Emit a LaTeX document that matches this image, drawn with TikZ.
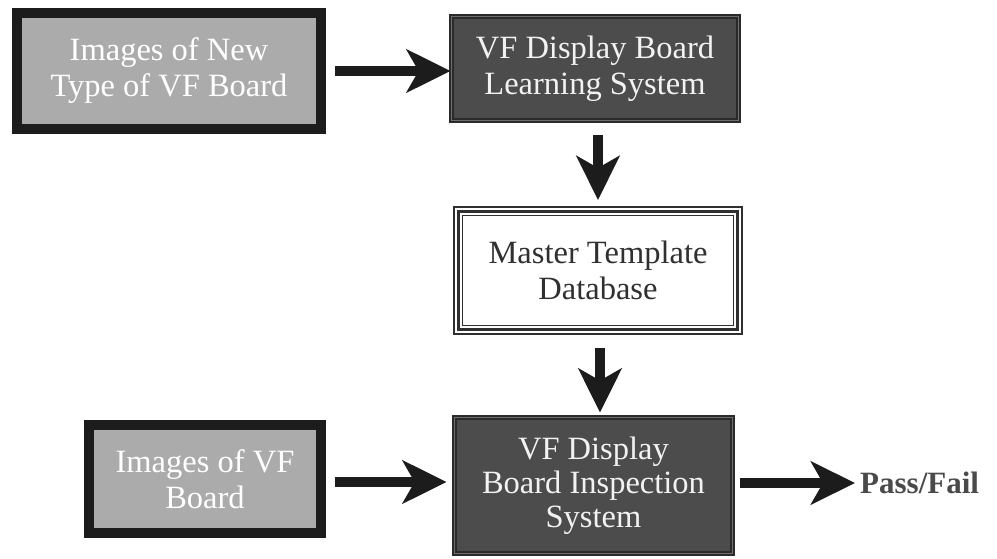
\documentclass[tikz,border=0pt]{standalone}
\usepackage{fontspec}
\setmainfont{Liberation Serif}
\usetikzlibrary{arrows.meta}
\definecolor{lightfill}{HTML}{ABABAB}
\definecolor{darkfill}{HTML}{4C4C4C}
\definecolor{frameclr}{HTML}{1C1C1C}
\definecolor{darkframe}{HTML}{2A2A2A}
\definecolor{framemid}{HTML}{6E6E6E}
\definecolor{textdark}{HTML}{303030}
\definecolor{pfclr}{HTML}{4A4A4A}
\begin{document}
\begin{tikzpicture}[x=1pt,y=1pt,
  boxtext/.style={font=\fontsize{32.5}{36}\selectfont, align=center},
  lightbox/.style={boxtext, draw=frameclr, line width=10pt, fill=lightfill, text=white, inner sep=0pt},
  darkbox/.style={boxtext, draw=darkframe, double=framemid, double distance=1.2pt, line width=1.8pt, fill=darkfill, text=white!95!black, inner sep=0pt},
  masterbox/.style={boxtext, draw=textdark, line width=3pt, fill=white, text=textdark, inner sep=0pt, outer sep=6pt},
  arr/.style={draw=frameclr, line width=10pt, -{Stealth[length=44pt, width=43pt, inset=12pt]}},
  thinframe/.style={draw=textdark, line width=1.4pt}
]
\useasboundingbox (0,0) rectangle (997,-559);

\node[lightbox, minimum width=304pt, minimum height=116pt] (b1) at (169,-71) {Images of New\\Type of VF Board};
\node[darkbox, minimum width=287pt, minimum height=104pt] (b2) at (595,-68.5) {VF Display Board\\Learning System};
\node[masterbox, minimum width=279pt, minimum height=118pt] (b3) at (598,-270.5) {Master Template\\Database};
\node[lightbox, minimum width=232pt, minimum height=108pt] (b4) at (205,-479) {Images of VF\\Board};
\node[darkbox, font=\fontsize{32.5}{34}\selectfont, minimum width=278pt, minimum height=136pt] (b5) at (593.5,-485.5) {VF Display\\Board Inspection\\System};
\node[anchor=west, inner sep=0pt, text=pfclr, font=\fontsize{31}{34}\selectfont\bfseries] (pf) at (860,-483) {Pass/Fail};

% triple frame of the master template box
\draw[thinframe] ([shift={(1.5pt,-1.5pt)}]b3.north west) rectangle ([shift={(-1.5pt,1.5pt)}]b3.south east);
\draw[thinframe, line width=1.2pt] ([shift={(10pt,-10pt)}]b3.north west) rectangle ([shift={(-10pt,10pt)}]b3.south east);

\draw[arr, shorten <=9pt] (b1.east) -- (b1.east -| b2.west);
\draw[arr, shorten <=14pt, shorten >=5.5pt] (b3.north |- b2.south) -- (b3.north);
\draw[arr, shorten <=12pt, shorten >=4pt] ([xshift=2pt]b3.south) -- ([xshift=2pt]b3.south |- b5.north);
\draw[arr, shorten <=9pt, shorten >=7pt] ([yshift=-3pt]b4.east) -- ([yshift=-3pt]b4.east -| b5.west);
\draw[arr, shorten <=7pt, shorten >=5pt] (b5.east |- pf.west) -- (pf.west);
\end{tikzpicture}
\end{document}
